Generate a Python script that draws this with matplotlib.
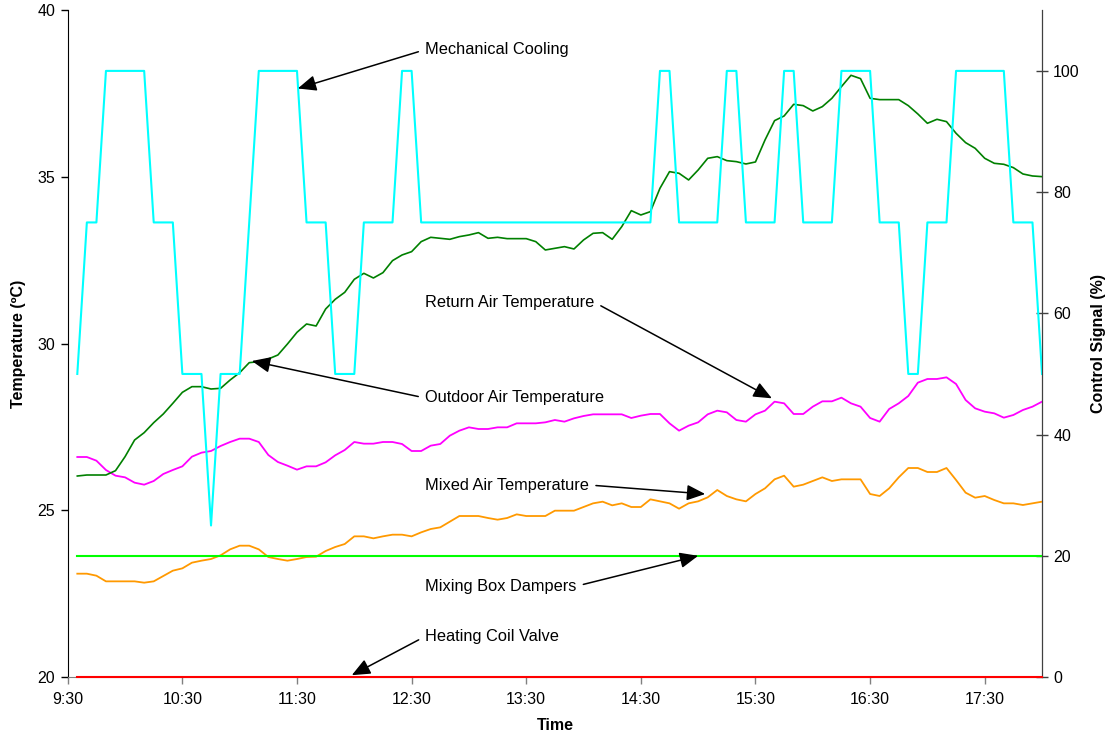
import matplotlib
matplotlib.use("Agg")
import matplotlib.pyplot as plt
import numpy as np

plt.rcParams['font.family'] = ['Liberation Sans', 'DejaVu Sans']

# Data: 5 minute samples from 9:35 to 18:00

start_hour = 9 + 35 / 60.0
step_hour = 5 / 60.0
n_samples = 102
hours = start_hour + np.arange(n_samples) * step_hour

outdoor_temp = [
    26.03, 26.06, 26.06, 26.06, 26.19, 26.61, 27.11, 27.33, 27.63, 27.89,
    28.21, 28.54, 28.71, 28.71, 28.64, 28.66, 28.91, 29.13, 29.43, 29.46,
    29.54, 29.66, 29.99, 30.34, 30.59, 30.53, 31.04, 31.33, 31.54, 31.93,
    32.11, 31.97, 32.13, 32.49, 32.66, 32.76, 33.06, 33.19, 33.16, 33.13,
    33.21, 33.26, 33.33, 33.16, 33.19, 33.15, 33.15, 33.15, 33.06, 32.81,
    32.86, 32.91, 32.84, 33.11, 33.31, 33.33, 33.13, 33.51, 33.99, 33.86,
    33.96, 34.66, 35.16, 35.11, 34.91, 35.21, 35.56, 35.61, 35.49, 35.46,
    35.39, 35.45, 36.11, 36.69, 36.83, 37.18, 37.14, 36.98, 37.11, 37.36,
    37.71, 38.05, 37.95, 37.36, 37.32, 37.32, 37.32, 37.14, 36.89, 36.61,
    36.73, 36.66, 36.31, 36.03, 35.86, 35.56, 35.41, 35.38, 35.28, 35.09,
    35.03, 35.01,
]

return_temp = [
    26.60, 26.60, 26.49, 26.21, 26.04, 25.99, 25.83, 25.77, 25.88, 26.09,
    26.21, 26.32, 26.61, 26.73, 26.78, 26.93, 27.05, 27.15, 27.15, 27.05,
    26.66, 26.45, 26.34, 26.22, 26.32, 26.32, 26.44, 26.65, 26.81, 27.05,
    27.00, 27.00, 27.05, 27.05, 26.99, 26.78, 26.78, 26.94, 26.99, 27.24,
    27.39, 27.49, 27.44, 27.44, 27.49, 27.49, 27.61, 27.61, 27.61, 27.64,
    27.71, 27.66, 27.76, 27.83, 27.88, 27.88, 27.88, 27.88, 27.77, 27.84,
    27.89, 27.89, 27.61, 27.39, 27.54, 27.64, 27.88, 27.99, 27.94, 27.71,
    27.66, 27.88, 27.99, 28.26, 28.21, 27.89, 27.89, 28.11, 28.27, 28.27,
    28.38, 28.21, 28.11, 27.77, 27.66, 28.04, 28.21, 28.43, 28.83, 28.94,
    28.94, 28.99, 28.79, 28.31, 28.06, 27.96, 27.91, 27.78, 27.86, 28.01,
    28.11, 28.26,
]

mixed_temp = [
    23.10, 23.10, 23.04, 22.87, 22.87, 22.87, 22.87, 22.83, 22.87, 23.03,
    23.19, 23.26, 23.43, 23.49, 23.54, 23.65, 23.83, 23.94, 23.94, 23.83,
    23.60, 23.54, 23.49, 23.54, 23.60, 23.61, 23.78, 23.90, 23.99, 24.22,
    24.22, 24.16, 24.22, 24.27, 24.27, 24.22, 24.34, 24.44, 24.49, 24.66,
    24.83, 24.83, 24.83, 24.77, 24.72, 24.77, 24.88, 24.83, 24.83, 24.83,
    24.99, 24.99, 24.99, 25.10, 25.21, 25.26, 25.15, 25.21, 25.10, 25.10,
    25.33, 25.27, 25.21, 25.05, 25.21, 25.27, 25.39, 25.61, 25.43, 25.33,
    25.27, 25.49, 25.66, 25.93, 26.04, 25.71, 25.77, 25.88, 25.99, 25.88,
    25.93, 25.93, 25.93, 25.49, 25.43, 25.66, 25.99, 26.27, 26.27, 26.15,
    26.15, 26.27, 25.91, 25.53, 25.38, 25.43, 25.31, 25.21, 25.21, 25.16,
    25.21, 25.26,
]

mech_cooling = [
    50, 75, 75, 100, 100, 100, 100, 100, 75, 75,
    75, 50, 50, 50, 25, 50, 50, 50, 75, 100,
    100, 100, 100, 100, 75, 75, 75, 50, 50, 50,
    75, 75, 75, 75, 100, 100, 75, 75, 75, 75,
    75, 75, 75, 75, 75, 75, 75, 75, 75, 75,
    75, 75, 75, 75, 75, 75, 75, 75, 75, 75,
    75, 100, 100, 75, 75, 75, 75, 75, 100, 100,
    75, 75, 75, 75, 100, 100, 75, 75, 75, 75,
    100, 100, 100, 100, 75, 75, 75, 50, 50, 75,
    75, 75, 100, 100, 100, 100, 100, 100, 75, 75,
    75, 50,
]

damper_signal = [20] * n_samples
heating_valve = [0] * n_samples

tick_hours = [9.5, 10.5, 11.5, 12.5, 13.5, 14.5, 15.5, 16.5, 17.5]
tick_labels = ["9:30", "10:30", "11:30", "12:30", "13:30",
               "14:30", "15:30", "16:30", "17:30"]

# Figure and axes

fig = plt.figure(figsize=(11.07, 7.40), dpi=100)
ax = fig.add_axes([0.0612, 0.0851, 0.8801, 0.9010])
ax2 = ax.twinx()

# Temperatures on the left axis

ax.plot(hours, mixed_temp, color='#FF9900', lw=1.3, zorder=3)
ax.plot(hours, return_temp, color='#FF00FF', lw=1.3, zorder=3)
ax.plot(hours, outdoor_temp, color='#008000', lw=1.2, zorder=3)

# Control signals on the right axis

ax2.plot(hours, damper_signal, color='#00FF00', lw=1.5)
ax2.plot(hours, mech_cooling, color='#00FFFF', lw=1.5)
ax2.plot(hours, heating_valve, color='#FF0000', lw=1.5, clip_on=False, zorder=5)

# Axis limits and ticks

ax.set_xlim(9.5, 18.0)
ax.set_ylim(20, 40)
ax2.set_ylim(0, 110)
ax.set_xticks(tick_hours)
ax.set_xticklabels(tick_labels)
ax.set_yticks([20, 25, 30, 35, 40])
ax2.set_yticks([0, 20, 40, 60, 80, 100])

ax.tick_params(axis='x', direction='out', length=5, width=1, color='#808080',
               labelsize=11.5, pad=6)
ax.tick_params(axis='y', direction='out', length=5, width=1, color='black',
               labelsize=11.5, pad=4)
ax2.tick_params(axis='y', direction='inout', length=8, width=1, color='#404040',
                labelsize=11.5, pad=4)

for a in (ax, ax2):
    a.spines['top'].set_visible(False)
ax.spines['left'].set_color('black')
ax.spines['bottom'].set_color('#808080')
ax2.spines['right'].set_color('#404040')
ax2.spines['left'].set_visible(False)
ax2.spines['bottom'].set_visible(False)

# Axis labels

ax.set_xlabel("Time", fontsize=11.5, fontweight='bold', labelpad=8)
ax.set_ylabel("Temperature (ºC)", fontsize=11.5, fontweight='bold', labelpad=8)
ax2.set_ylabel("Control Signal (%)", fontsize=11.5, fontweight='bold', labelpad=8)

# Annotations with arrows

arrow_left = dict(arrowstyle='-|>,head_length=0.7,head_width=0.3', color='black',
                  lw=1.1, mutation_scale=16, shrinkA=3, shrinkB=0, relpos=(0, 0.5))
arrow_right = dict(arrow_left, relpos=(1, 0.5))
text_x = 12.618

ax2.annotate("Mechanical Cooling", xy=(11.507, 97.1), xytext=(text_x, 103.5),
             ha='left', va='center', fontsize=11.8, arrowprops=arrow_left)
ax.annotate("Outdoor Air Temperature", xy=(11.106, 29.48), xytext=(text_x, 28.37),
            ha='left', va='center', fontsize=11.8, arrowprops=arrow_left)
ax.annotate("Return Air Temperature", xy=(15.643, 28.36), xytext=(text_x, 31.24),
            ha='left', va='center', fontsize=11.8, arrowprops=arrow_right)
ax.annotate("Mixed Air Temperature", xy=(15.061, 25.49), xytext=(text_x, 25.76),
            ha='left', va='center', fontsize=11.8, arrowprops=arrow_right)
ax2.annotate("Mixing Box Dampers", xy=(15.0, 20.0), xytext=(text_x, 15.0),
             ha='left', va='center', fontsize=11.8, arrowprops=arrow_right)
ax2.annotate("Heating Coil Valve", xy=(11.978, 0.3), xytext=(text_x, 6.7),
             ha='left', va='center', fontsize=11.8, arrowprops=arrow_left,
             annotation_clip=False)

# Save figure

fig.savefig("out.png", dpi=100)
